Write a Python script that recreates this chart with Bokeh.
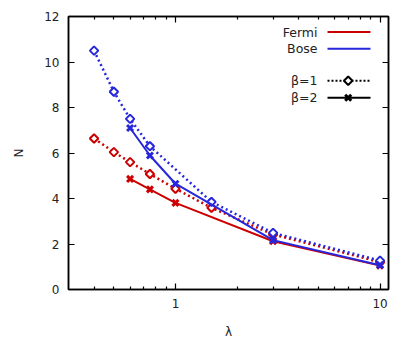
from bokeh.plotting import figure
from bokeh.models import (Range1d, LinearScale, LogAxis, LinearAxis, FixedTicker,
                          BasicTickFormatter, CustomJSTickFormatter, ColumnDataSource)
from bokeh.embed import file_html
from bokeh.resources import INLINE
from bokeh.core.properties import value

# ---- data ----
lam_fermi_b1 = [0.4, 0.5, 0.6, 0.75, 1.0, 1.5, 3.0, 10.0]
N_fermi_b1 = [6.64, 6.04, 5.60, 5.08, 4.43, 3.59, 2.42, 1.20]
lam_bose_b1 = [0.4, 0.5, 0.6, 0.75, 1.5, 3.0, 10.0]
N_bose_b1 = [10.50, 8.69, 7.50, 6.30, 3.85, 2.49, 1.27]
lam_b2 = [0.6, 0.75, 1.0, 3.0, 10.0]
N_fermi_b2 = [4.86, 4.40, 3.81, 2.12, 1.05]
N_bose_b2 = [7.10, 5.89, 4.65, 2.17, 1.07]

y_ticks = [0, 2, 4, 6, 8, 10, 12]
x_major = [1, 10]
x_minor = [0.4, 0.5, 0.6, 0.7, 0.8, 0.9, 2, 3, 4, 5, 6, 7, 8, 9]
legend_labels = ["Fermi", "Bose", "β=1", "β=2"]

RED = "#cc0000"
BLUE = "#2626dc"
FONT = "DejaVu Sans"
FS = "12px"

p = figure(frame_width=320, frame_height=273, x_axis_type="log",
           x_range=Range1d(0.3, 11), y_range=Range1d(0, 12),
           output_backend="svg", toolbar_location=None,
           min_border_left=68, min_border_right=20, min_border_top=16, min_border_bottom=53,
           x_axis_label="λ", y_axis_label="N")
p.grid.visible = False
p.outline_line_color = "black"
p.outline_line_width = 1.5
p.background_fill_color = "white"
p.border_fill_color = "white"

def style_axis(ax, minor=True, labels=True):
    ax.major_tick_in = 6
    ax.major_tick_out = 0
    ax.minor_tick_in = 3
    ax.minor_tick_out = 0
    ax.major_tick_line_color = "black"
    ax.major_tick_line_width = 1.2
    ax.minor_tick_line_width = 1.2
    ax.minor_tick_line_color = "black" if minor else None
    ax.axis_line_color = "black"
    ax.axis_line_width = 1.5
    ax.major_label_text_font = FONT
    ax.major_label_text_font_size = FS
    ax.major_label_text_color = "#222222"
    ax.axis_label_text_font = FONT
    ax.axis_label_text_font_size = FS
    ax.axis_label_text_font_style = "normal"
    ax.axis_label_text_color = "#222222"
    if not labels:
        ax.formatter = CustomJSTickFormatter(code="return ''")
        ax.major_label_standoff = 0

xt = FixedTicker(ticks=x_major, minor_ticks=x_minor)
yt = FixedTicker(ticks=y_ticks)

xa = p.xaxis[0]
xa.ticker = xt
xa.formatter = BasicTickFormatter()
style_axis(xa)
xa.major_label_standoff = 9
xa.axis_label_standoff = 14

ya = p.yaxis[0]
ya.ticker = yt
style_axis(ya, minor=False)
ya.major_label_standoff = 9
ya.axis_label_standoff = 15

top = LogAxis(ticker=FixedTicker(ticks=x_major, minor_ticks=x_minor))
style_axis(top, labels=False)
p.add_layout(top, "above")
right = LinearAxis(ticker=FixedTicker(ticks=y_ticks))
style_axis(right, minor=False, labels=False)
p.add_layout(right, "right")

# ---- data series ----
def series(x, y, color, dotted, marker):
    src = ColumnDataSource(dict(x=x, y=y))
    if dotted:
        p.line("x", "y", source=src, line_color=color, line_width=2.5, line_dash="2 3")
    else:
        p.line("x", "y", source=src, line_color=color, line_width=2)
    if marker == "diamond":
        p.scatter("x", "y", source=src, marker="square", angle=0.785398, size=6,
                  line_color=color, line_width=2, fill_color="white")
    else:
        p.scatter("x", "y", source=src, marker="x", size=8.5, line_color=color, line_width=3)

series(lam_fermi_b1, N_fermi_b1, RED, True, "diamond")
series(lam_b2, N_fermi_b2, RED, False, "x")
series(lam_bose_b1, N_bose_b1, BLUE, True, "diamond")
series(lam_b2, N_bose_b2, BLUE, False, "x")

# ---- legend (frame-pixel coordinates via extra linear ranges) ----
p.extra_x_ranges = {"lx": Range1d(0, 320)}
p.extra_x_scales = {"lx": LinearScale()}
p.extra_y_ranges = {"ly": Range1d(273, 0)}
p.extra_y_scales = {"ly": LinearScale()}

leg_y = [15.5, 32.3, 64.3, 81.3]
p.text(x=[249] * 4, y=leg_y, text=legend_labels, x_range_name="lx", y_range_name="ly",
       text_align="right", text_baseline="middle", text_font=value(FONT),
       text_font_size=value("12.5px"), text_color="#222222")
p.segment(x0=[259, 259], y0=leg_y[:2], x1=[302, 302], y1=leg_y[:2],
          line_color=[RED, BLUE], line_width=2, x_range_name="lx", y_range_name="ly")
p.segment(x0=[259], y0=[leg_y[2]], x1=[302], y1=[leg_y[2]], line_color="black",
          line_width=2, line_dash="2 2", x_range_name="lx", y_range_name="ly")
p.segment(x0=[259], y0=[leg_y[3]], x1=[302], y1=[leg_y[3]], line_color="black",
          line_width=2, x_range_name="lx", y_range_name="ly")
p.scatter(x=[279.7], y=[leg_y[2]], marker="square", angle=0.785398, size=6,
          line_color="black", line_width=2, fill_color="white",
          x_range_name="lx", y_range_name="ly")
p.scatter(x=[279.7], y=[leg_y[3]], marker="x", size=8.5, line_color="black", line_width=3,
          x_range_name="lx", y_range_name="ly")

open("out.html", "w").write(file_html(p, INLINE))
